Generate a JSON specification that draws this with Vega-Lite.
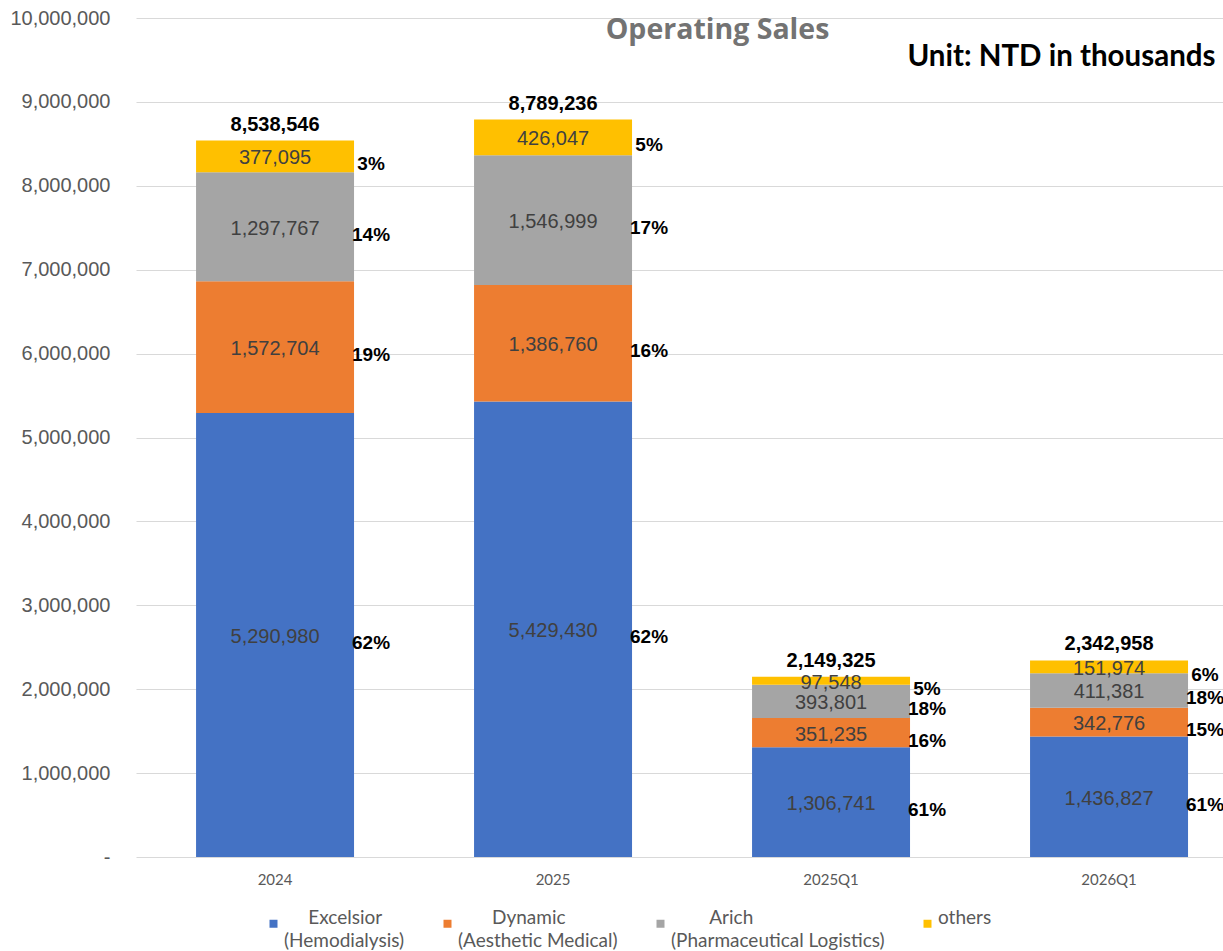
{
  "$schema": "https://vega.github.io/schema/vega-lite/v6.json",
  "autosize": {"type": "none"},
  "padding": {"left": 136, "top": 18, "right": 0, "bottom": 94},
  "width": 1087,
  "height": 839,
  "background": "white",
  "title": {
    "text": "Operating Sales",
    "anchor": "middle",
    "dx": 38,
    "dy": 35,
    "offset": -24,
    "baseline": "alphabetic",
    "font": "Open Sans",
    "fontSize": 28.5,
    "fontWeight": "bold",
    "color": "#737373"
  },
  "data": {
    "values": [
      {"period": "2024", "series": "Excelsior", "order": 1, "value": 5290980, "pct": "62%"},
      {"period": "2024", "series": "Dynamic", "order": 2, "value": 1572704, "pct": "19%"},
      {"period": "2024", "series": "Arich", "order": 3, "value": 1297767, "pct": "14%"},
      {"period": "2024", "series": "others", "order": 4, "value": 377095, "pct": "3%"},
      {"period": "2025", "series": "Excelsior", "order": 1, "value": 5429430, "pct": "62%"},
      {"period": "2025", "series": "Dynamic", "order": 2, "value": 1386760, "pct": "16%"},
      {"period": "2025", "series": "Arich", "order": 3, "value": 1546999, "pct": "17%"},
      {"period": "2025", "series": "others", "order": 4, "value": 426047, "pct": "5%"},
      {"period": "2025Q1", "series": "Excelsior", "order": 1, "value": 1306741, "pct": "61%"},
      {"period": "2025Q1", "series": "Dynamic", "order": 2, "value": 351235, "pct": "16%"},
      {"period": "2025Q1", "series": "Arich", "order": 3, "value": 393801, "pct": "18%"},
      {"period": "2025Q1", "series": "others", "order": 4, "value": 97548, "pct": "5%"},
      {"period": "2026Q1", "series": "Excelsior", "order": 1, "value": 1436827, "pct": "61%"},
      {"period": "2026Q1", "series": "Dynamic", "order": 2, "value": 342776, "pct": "15%"},
      {"period": "2026Q1", "series": "Arich", "order": 3, "value": 411381, "pct": "18%"},
      {"period": "2026Q1", "series": "others", "order": 4, "value": 151974, "pct": "6%"}
    ]
  },
  "transform": [
    {"stack": "value", "groupby": ["period"], "sort": [{"field": "order", "order": "ascending"}], "as": ["y0", "y1"]}
  ],
  "layer": [
    {
      "mark": {"type": "bar"},
      "encoding": {
        "x": {
          "field": "period", "type": "nominal", "sort": null, "title": null,
          "scale": {"paddingInner": 0.4317, "paddingOuter": 0.1709, "align": 0.632},
          "axis": {"domain": false, "ticks": false, "labelAngle": 0, "labelFont": "Lato", "labelFontSize": 15, "labelColor": "#595959", "labelPadding": 15}
        },
        "y": {
          "field": "y1", "type": "quantitative",
          "scale": {"domain": [0, 10000000], "nice": false, "zero": true},
          "axis": {
            "values": [0, 1000000, 2000000, 3000000, 4000000, 5000000, 6000000, 7000000, 8000000, 9000000, 10000000],
            "labelExpr": "datum.value == 0 ? '-' : format(datum.value, ',')",
            "domain": false, "ticks": false, "grid": true, "gridColor": "#d9d9d9", "gridWidth": 1,
            "labelFont": "Liberation Sans", "labelFontSize": 20, "labelColor": "#595959", "labelPadding": 26,
            "title": "Unit: NTD in thousands",
            "titleAngle": 0, "titleAlign": "right", "titleBaseline": "middle",
            "titleX": 1079, "titleY": 38,
            "titleFont": "Lato", "titleFontSize": 29.5, "titleFontWeight": "bold", "titleColor": "#000000"
          }
        },
        "y2": {"field": "y0"},
        "color": {
          "field": "series", "type": "nominal", "title": null,
          "scale": {"domain": ["Excelsior", "Dynamic", "Arich", "others"], "range": ["#4472C4", "#ED7D31", "#A5A5A5", "#FFC000"]},
          "legend": {
            "orient": "none", "legendX": 128, "legendY": 896, "direction": "horizontal", "columns": 4,
            "symbolType": "square", "symbolSize": 64, "symbolStrokeWidth": 0,
            "labelFont": "Lato", "labelFontSize": 19, "labelColor": "#595959", "labelBaseline": "alphabetic",
            "labelOffset": 1, "columnPadding": 33, "labelLimit": 400, "padding": 0,
            "labelExpr": "datum.label == 'Excelsior' ? ['\u200b\u00a0\u00a0\u00a0\u00a0\u00a0Excelsior', '(Hemodialysis)'] : datum.label == 'Dynamic' ? ['\u200b\u00a0\u00a0\u00a0\u00a0\u00a0\u00a0\u00a0Dynamic', '(Aesthetic Medical)'] : datum.label == 'Arich' ? ['\u200b\u00a0\u00a0\u00a0\u00a0\u00a0\u00a0\u00a0\u00a0Arich', '(Pharmaceutical Logistics)'] : ['others', '\u2800']"
          }
        }
      }
    },
    {
      "transform": [{"fold": ["y0", "y1"], "as": ["edge", "pos"]}],
      "mark": {"type": "text", "font": "Liberation Sans", "fontSize": 20, "color": "#404040", "baseline": "middle", "dy": 2},
      "encoding": {
        "x": {"field": "period", "type": "nominal", "sort": null},
        "y": {"aggregate": "mean", "field": "pos", "type": "quantitative"},
        "detail": {"field": "series"},
        "text": {"field": "value", "type": "quantitative", "format": ","}
      }
    },
    {
      "transform": [{"fold": ["y0", "y1"], "as": ["edge", "pos"]}],
      "mark": {"type": "text", "font": "Liberation Sans", "fontSize": 19, "fontWeight": "bold", "color": "#000000", "baseline": "middle", "align": "center", "dx": 96, "dy": 8},
      "encoding": {
        "x": {"field": "period", "type": "nominal", "sort": null},
        "y": {"aggregate": "mean", "field": "pos", "type": "quantitative"},
        "detail": {"field": "series"},
        "text": {"field": "pct", "type": "nominal"}
      }
    },
    {
      "mark": {"type": "text", "font": "Liberation Sans", "fontSize": 20, "fontWeight": "bold", "color": "#000000", "baseline": "bottom", "dy": -6},
      "encoding": {
        "x": {"field": "period", "type": "nominal", "sort": null},
        "y": {"aggregate": "max", "field": "y1", "type": "quantitative"},
        "text": {"aggregate": "max", "field": "y1", "type": "quantitative", "format": ","}
      }
    }
  ],
  "config": {
    "view": {"stroke": null},
    "style": {"guide-label": {"lineHeight": 23}}
  }
}
